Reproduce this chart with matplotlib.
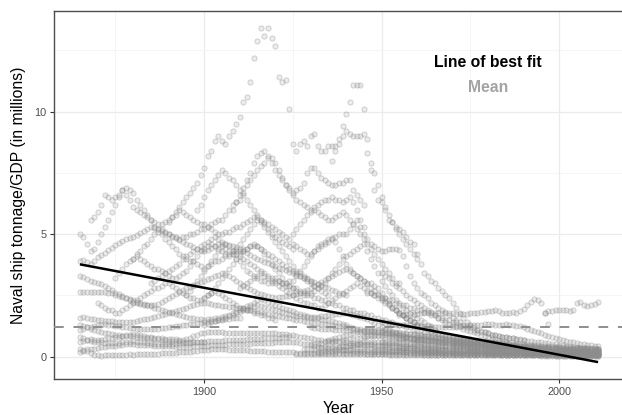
import numpy as np
import matplotlib
matplotlib.use("Agg")
import matplotlib.pyplot as plt

# ---------------- data ----------------
# each series: start year, then one value per year
s01 = (1865, [0.30,0.28,0.22,0.15,0.08,0.05,0.04,0.05,0.06,0.05,
              0.06,0.07,0.06,0.08,0.09,0.08,0.10,0.10,0.11,0.12,
              0.12,0.13,0.12,0.14,0.15,0.15,0.16,0.17,0.18,0.18,
              0.19,0.20,0.22,0.25,0.27,0.28,0.29,0.30,0.31,0.31,
              0.30,0.30,0.29,0.28,0.28,0.29,0.27,0.26,0.25,0.25,
              0.24,0.24,0.22,0.21,0.20,0.20,0.20,0.19,0.19,0.18,
              0.18,0.17,0.17,0.16,0.16,0.15,0.15,0.15,0.14,0.14,
              0.14,0.13,0.13,0.12,0.12,0.12,0.11,0.11,0.11,0.10,
              0.10,0.10,0.10,0.09,0.09,0.09,0.09,0.08,0.08,0.08,
              0.08,0.08,0.08,0.07,0.07,0.07,0.07,0.07,0.07,0.06,
              0.06,0.06,0.06,0.06,0.06,0.06,0.05,0.05,0.05,0.05,
              0.05,0.05,0.05,0.05,0.05,0.05,0.05,0.05,0.05,0.05,
              0.05,0.05,0.05,0.05,0.05,0.05,0.05,0.05,0.05,0.05,
              0.04,0.04,0.04,0.04,0.04,0.04,0.04,0.04,0.04,0.04,
              0.04,0.04,0.04,0.04,0.04,0.04,0.04])
s02 = (1865, [0.20,0.25,0.30,0.30,0.32,0.35,0.38,0.40,0.42,0.44,
              0.45,0.46,0.48,0.50,0.52,0.50,0.49,0.48,0.47,0.47,
              0.46,0.45,0.44,0.44,0.43,0.42,0.42,0.41,0.40,0.40,
              0.40,0.41,0.42,0.43,0.44,0.45,0.45,0.46,0.47,0.48,
              0.48,0.49,0.50,0.50,0.51,0.52,0.52,0.53,0.53,0.54,
              0.55,0.55,0.56,0.56,0.57,0.58,0.58,0.59,0.59,0.60,
              0.60,0.58,0.55,0.52,0.50,0.48,0.45,0.42,0.40,0.38,
              0.36,0.34,0.32,0.30,0.28,0.27,0.26,0.25,0.24,0.23,
              0.22,0.22,0.21,0.21,0.20,0.20,0.20,0.19,0.19,0.19,
              0.18,0.18,0.18,0.17,0.17,0.17,0.16,0.16,0.16,0.16,
              0.15,0.15,0.15,0.15,0.14,0.14,0.14,0.14,0.13,0.13,
              0.13,0.13,0.12,0.12,0.12,0.12,0.12,0.11,0.11,0.11,
              0.11,0.11,0.10,0.10,0.10,0.10,0.10,0.10,0.10,0.10,
              0.09,0.09,0.09,0.09,0.09,0.09,0.09,0.09,0.09,0.09,
              0.09,0.09,0.08,0.08,0.08,0.08,0.08])
s03 = (1865, [0.60,0.65,0.70,0.72,0.70,0.68,0.70,0.72,0.75,0.78,
              0.80,0.82,0.85,0.88,0.90,0.92,0.90,0.88,0.85,0.82,
              0.80,0.78,0.76,0.75,0.74,0.72,0.72,0.71,0.70,0.70,
              0.72,0.78,0.85,0.90,0.95,0.98,1.00,1.00,1.01,1.00,
              0.99,0.98,0.98,0.97,0.97,0.96,0.96,0.95,0.95,0.96,
              0.96,0.97,0.97,0.96,0.95,0.95,0.94,0.93,0.92,0.90,
              0.88,0.85,0.82,0.80,0.78,0.75,0.72,0.70,0.68,0.66,
              0.65,0.64,0.63,0.62,0.60,0.58,0.56,0.54,0.52,0.50,
              0.48,0.47,0.46,0.45,0.44,0.43,0.42,0.41,0.40,0.39,
              0.38,0.37,0.36,0.35,0.34,0.33,0.32,0.31,0.30,0.29,
              0.28,0.27,0.26,0.26,0.25,0.25,0.24,0.24,0.23,0.23,
              0.22,0.22,0.21,0.21,0.20,0.20,0.20,0.19,0.19,0.19,
              0.18,0.18,0.18,0.17,0.17,0.17,0.16,0.16,0.16,0.15,
              0.15,0.15,0.15,0.14,0.14,0.14,0.14,0.13,0.13,0.13,
              0.13,0.12,0.12,0.12,0.12,0.12,0.12])
s04 = (1865, [1.30,1.25,1.20,1.15,1.10,1.05,1.00,0.98,0.95,0.92,
              0.90,0.88,0.86,0.85,0.84,0.83,0.82,0.80,0.78,0.76,
              0.75,0.74,0.72,0.70,0.68,0.66,0.65,0.64,0.63,0.62,
              0.61,0.60,0.60,0.60,0.61,0.62,0.63,0.64,0.65,0.66,
              0.66,0.67,0.68,0.68,0.69,0.70,0.70,0.71,0.72,0.72,
              0.73,0.74,0.75,0.76,0.77,0.78,0.78,0.79,0.80,0.80])
s05 = (1865, [1.60,1.62,1.58,1.55,1.52,1.50,1.48,1.46,1.45,1.44,
              1.42,1.41,1.40,1.40,1.41,1.42,1.45,1.48,1.52,1.55,
              1.58,1.62,1.66,1.70,1.74,1.78,1.82,1.86,1.90,1.95,
              2.00,2.05,2.10,2.15,2.18,2.20,2.18,2.15,2.12,2.10,
              2.08,2.06,2.04,2.02,2.00,1.98,1.95,1.92,1.90,1.88,
              1.85,1.82,1.80,1.76,1.72,1.70,1.66,1.62,1.60,1.56,
              1.52,1.50,1.48,1.45,1.42,1.40,1.38,1.36,1.34,1.32,
              1.30,1.28,1.26,1.25,1.24,1.22,1.20,1.18,1.15,1.12,
              1.10,1.08,1.06,1.04,1.02,1.00,0.98,0.95,0.92,0.90,
              0.88,0.85,0.82,0.80,0.78,0.76,0.74,0.72,0.70,0.68,
              0.66,0.64,0.62,0.60,0.58,0.56,0.55,0.54,0.52,0.51,
              0.50,0.49,0.48,0.47,0.46,0.45,0.44,0.43,0.42,0.41,
              0.40,0.39,0.38,0.37,0.36,0.35,0.34,0.33,0.32,0.31,
              0.30,0.30,0.29,0.29,0.28,0.28,0.27,0.27,0.26,0.26,
              0.25,0.25,0.24,0.24,0.23,0.23,0.22])
s06 = (1865, [2.65,2.66,2.64,2.65,2.66,2.65,2.64,2.63,2.62,2.58,
              2.52,2.48,2.44,2.40,2.35,2.30,2.25,2.20,2.15,2.10,
              2.05,2.00,1.96,1.92,1.88,1.84,1.80,1.76,1.72,1.68,
              1.64,1.60,1.57,1.54,1.52,1.50,1.52,1.54,1.57,1.60,
              1.64,1.68,1.72,1.78,1.84,1.90,1.98,2.05,2.12,2.20,
              2.30,2.35,2.30,2.24,2.18,2.12,2.06,2.00,1.95,1.90,
              1.85,1.80,1.76,1.72,1.68,1.64,1.60,1.57,1.54,1.51,
              1.48,1.45,1.42,1.38,1.34,1.30])
s07 = (1865, [3.30,3.25,3.18,3.10,3.05,3.00,2.95,2.88,2.80,2.72,
              2.62,2.55,2.48,2.40,2.30,2.22,2.18,2.14,2.12,2.10,
              2.10,2.12,2.16,2.22,2.30,2.38,2.46,2.55,2.64,2.72,
              2.80,2.86,2.92,2.98,3.04,3.10,3.16,3.22,3.28,3.34,
              3.40,3.35,3.28,3.20,3.10,3.00,2.92,2.84,2.76,2.68,
              2.60,2.56,2.52,2.48,2.44,2.40,2.42,2.44,2.46,2.48,
              2.50,2.56,2.62,2.68,2.74,2.80,2.88,2.96,3.04,3.12,
              3.20,3.28,3.36,3.44,3.52,3.60,3.50,3.40,3.30,3.20,
              3.10,2.96,2.82,2.68,2.54,2.40,2.28,2.16,2.04,1.92,
              1.80,1.70,1.60,1.50,1.40,1.30,1.24,1.18,1.12,1.06,
              1.00,0.96,0.92,0.88,0.84,0.80,0.77,0.74,0.71,0.68,
              0.66,0.64,0.62,0.60,0.58,0.56,0.54,0.52,0.50,0.48,
              0.47,0.46,0.45,0.44,0.43,0.42,0.41,0.40,0.39,0.38,
              0.37,0.36,0.35,0.34,0.34,0.33,0.33,0.32,0.32,0.31,
              0.31,0.30,0.30,0.29,0.29,0.28,0.28])
s08 = (1865, [3.90,3.95,3.85,3.80,3.90,4.05,4.15,4.25,4.35,4.45,
              4.55,4.65,4.72,4.80,4.86,4.90,4.96,5.04,5.12,5.20,
              5.30,5.26,5.20,5.12,5.06,5.00,4.92,4.84,4.76,4.68,
              4.60,4.54,4.48,4.40,4.34,4.30,4.36,4.44,4.52,4.58,
              4.62,4.58,4.54,4.50,4.46,4.40,4.32,4.24,4.16,4.08,
              4.00,3.94,3.88,3.82,3.76,3.70,3.64,3.58,3.52,3.46,
              3.40,3.34,3.28,3.22,3.16,3.10,3.04,2.98,2.92,2.86,
              2.80,2.74,2.68,2.62,2.56,2.50])
s09 = (1865, [5.0,4.9,4.6,4.3,4.4,4.7,5.0,5.3,5.6,5.9,
              6.2,6.5,6.8,6.6,6.4,6.1,6.0,5.9,5.8,5.7,
              5.6,5.5,5.4,5.2,5.1,5.0,4.9,4.9,4.8,4.9,
              4.9,5.0,5.0,5.1,5.2,5.2,5.3,5.4,5.5,5.6,
              5.6,5.8,6.0,6.2,6.3,6.4,6.7,7.0,7.2,7.4,
              7.6,7.8,7.9,8.1,7.9,7.6,7.4,7.2,7.0,6.9,
              6.7,6.8,6.9,7.1,7.5,7.7,7.7,7.5,7.3,7.2,
              7.1,7.0,7.0,7.1,7.1,7.2,7.2,6.8,6.6,6.4,
              6.2])
s10 = (1868, [5.6,5.7,5.9,6.2,6.6,6.5,6.4,6.5,6.6,6.8,
              6.9,6.8,6.7,6.4,6.2,6.0,5.8,5.6,5.3,5.1,
              5.0,4.8,4.7,4.5,4.4,4.2,4.1,4.0,3.9,3.9,
              3.8,3.7,3.6,3.7,3.8,3.9,3.9,4.0,4.1,4.2,
              4.3,4.3,4.3,4.4,4.4,4.5,4.5,4.5,4.4,4.3,
              4.2,4.1,4.0,3.9,3.8,3.7,3.6,3.5,3.4,3.3,
              3.2,3.1,3.0,2.9,2.8,2.7,2.6,2.5])
s11 = (1880, [4.0,4.2,4.3,4.5,4.6,4.8,5.0,5.2,5.4,5.5,
              5.6,5.7,5.8,6.0,5.9,5.8,5.7,5.6,5.5,5.4,
              5.4,5.3,5.2,5.1,5.0,5.0,5.1,5.1,5.2,5.3,
              5.3,5.4,5.5,5.6,5.7,5.7,5.6,5.5,5.4,5.3,
              5.2,5.1,5.0,4.9,4.8,4.6,4.5,4.4,4.3,4.2,
              4.2,4.3,4.4,4.5,4.6,4.7,4.8,4.9,5.0,5.0,
              5.0,5.2,5.4,5.6,5.3,5.0,4.8,4.6,4.5,4.4,
              4.3,4.3,4.4,4.4,4.4,4.35,4.1,3.7,3.3,3.0,
              2.8,2.6,2.5,2.4,2.2,2.1,2.0,1.9,1.8,1.7,
              1.6,1.5,1.4])
s12 = (1885, [3.0,3.1,3.2,3.3,3.4,3.5,3.6,3.7,3.8,4.0,
              4.1,4.2,4.3,4.4,4.5,4.6,4.7,4.8,4.9,4.8,
              4.7,4.6,4.5,4.3,4.2,4.1,4.0,3.9,3.8,3.7,
              3.6,3.5,3.4,3.3,3.2,3.2,3.1,3.0,2.9,2.9,
              2.8,2.8,2.7,2.6,2.6,2.5,2.4,2.4,2.3,2.3,
              2.2,2.2,2.1,2.1,2.0,2.0,1.9,1.9,1.8,1.8,
              1.8,1.7,1.7,1.6,1.6,1.5,1.5,1.4,1.4,1.3,
              1.3,1.3,1.2,1.2,1.1,1.1,1.1,1.0,1.0,1.0,
              0.95,0.92,0.90,0.88,0.85,0.82,0.80,0.78,0.76,0.74,
              0.72,0.70,0.68,0.66,0.64,0.62,0.60,0.58,0.56,0.54,
              0.52,0.50,0.48,0.46,0.44,0.42])
s13 = (1925, [8.7,8.4,8.7,8.8,8.6,9.0,9.1,8.6,8.4,8.4,
              8.6,8.6,8.6,8.7,9.0,9.2,9.1,9.0,9.0,9.0,
              9.1,8.9,7.6,6.8,6.4,6.3,6.0,5.6,5.5,5.3,
              5.2,5.1,4.9,4.7,4.6,4.2,3.8,3.4,3.3,3.1,
              3.0,2.8,2.7,2.5,2.4,2.2,2.0,1.8,1.6,1.4,
              1.3,1.2,1.1,1.05,1.0,0.95,0.9,0.88,0.85,0.82,
              0.8,0.78,0.76,0.74,0.72,0.7])
s14 = (1890, [5.5,5.7,5.9,6.1,6.3,6.5,6.7,6.9,7.1,7.4,
              7.7,8.2,8.4,8.8,9.0,8.8,8.7,9.0,9.2,9.5,
              9.8,10.4,10.6,11.2,12.2,12.9,13.4,13.1,13.4,13.0,
              12.7,11.4,11.2,11.3,10.1])
s15 = (1936, [8.0,8.4,8.9,9.4,9.9,10.4,11.1,11.1,11.1,10.1,
              8.3,7.9,7.5,7.0,6.5,6.1,5.8,5.5,5.2,5.0,
              4.8,4.6,4.4,4.2,4.0])
s16 = (1908, [6.0,6.3,6.6,6.9,7.2,7.5,7.9,8.2,8.3,8.4,
              8.2,8.1,7.9,7.6,7.3,7.0,6.8,6.6,6.4,6.3,
              6.2,6.1,6.0,6.1,6.2,6.3,6.4,6.4,6.5,6.4,
              6.4,6.3,6.4,6.5,6.3,6.0,5.6,5.3])
s17 = (1895, [2.5,2.7,2.9,3.1,3.3,3.5,3.7,3.9,4.1,4.3,
              4.5,4.4,4.3,4.2,4.0,3.9,3.7,3.5,3.4,3.3,
              3.2,3.1,3.1,3.0,3.0,3.1,3.1,3.0,3.0,3.1,
              3.1,3.3,3.5,3.7,3.9,4.1,4.3,4.5,4.6,4.7,
              4.8,4.85,4.7,4.4,4.1,3.8,3.6,3.4,3.3,3.2,
              3.1,3.0,3.0,2.9,2.8,2.6,2.4,2.2,2.0,1.9,
              1.8,1.7,1.6,1.5,1.4,1.3])
s18 = (1900, [2.4,2.5,2.6,2.8,3.0,3.2,3.4,3.6,3.8,4.0,
              4.2,4.3,4.4,4.5,4.6,4.5,4.4,4.2,4.0,3.8,
              3.6,3.4,3.2,3.0,2.9,2.8,2.7,2.6,2.5,2.5,
              2.6,2.7,2.8,2.9,3.0,3.2,3.4,3.6,3.8,4.0,
              4.1,4.2,4.3,4.4,4.5,4.6,4.3,4.0,3.7,3.4,
              3.1,2.9,2.7,2.5,2.3,2.1,2.0,1.9,1.8,1.7,
              1.6,1.5,1.4,1.3,1.2,1.1])
s19 = (1875, [3.2,3.4,3.6,3.8,3.9,4.0,4.1,4.0,3.9,3.8,
              3.7,3.6,3.6,3.5,3.4,3.3,3.2,3.2,3.3,3.4,
              3.5,3.7,3.9,4.1,4.3,4.4,4.5,4.6,4.5,4.4,
              4.3,4.2,4.1,4.2,4.4,4.6,4.8,5.0,5.2,5.4,
              5.6,5.5,5.3,5.1,4.9,4.7,4.5,4.3,4.1,3.9,
              3.7,3.5,3.4,3.3,3.2,3.1])
s20 = (1870, [2.2,2.1,2.0,1.9,1.9,1.8,1.8,1.9,2.0,2.1,
              2.2,2.3,2.4,2.5,2.6,2.7,2.8,2.8,2.9,3.0,
              3.0,2.9,2.8,2.7,2.6,2.5,2.4,2.4,2.3,2.3,
              2.4,2.5,2.6,2.7,2.6,2.5,2.4,2.3,2.2,2.1,
              2.0,2.0,1.9,1.9,1.8,1.8,1.7,1.7,1.6,1.6,
              1.5])
s21 = (1865, [1.10,1.15,1.20,1.22,1.25,1.28,1.30,1.32,1.30,1.28,
              1.26,1.24,1.22,1.20,1.18,1.16,1.15,1.14,1.13,1.12,
              1.12,1.13,1.14,1.16,1.18,1.20,1.22,1.24,1.26,1.28,
              1.30,1.32,1.34,1.36,1.38,1.40,1.42,1.44,1.46,1.48,
              1.50,1.52,1.54,1.56,1.58,1.60])
s22 = (1865, [0.80,0.75,0.70,0.66,0.62,0.60,0.58,0.56,0.55,0.54,
              0.55,0.56,0.58,0.60,0.62,0.64,0.62,0.60,0.58,0.56,
              0.54,0.52,0.50,0.50,0.50,0.51,0.52,0.53,0.54,0.55,
              0.56,0.57,0.58,0.59,0.60,0.60])
s23 = (1900, [1.30,1.35,1.40,1.45,1.50,1.55,1.60,1.66,1.72,1.78,
              1.84,1.90,1.96,2.02,2.08,2.10,2.06,2.02,1.98,1.94,
              1.90,1.86,1.82,1.78,1.74,1.70,1.68,1.66,1.64,1.62,
              1.60,1.62,1.64,1.66,1.68,1.70,1.72,1.74,1.76,1.78,
              1.80,1.76,1.72,1.68,1.64,1.60,1.52,1.44,1.36,1.28,
              1.20,1.14,1.08,1.02,0.96,0.90,0.86,0.82,0.78,0.74,
              0.70])
s24 = (1910, [2.8,2.9,3.0,3.1,3.2,3.3,3.4,3.3,3.2,3.1,
              3.0,2.9,2.8,2.7,2.6,2.5,2.4,2.3,2.2,2.2,
              2.1,2.1,2.0,2.0,2.1,2.2,2.3,2.4,2.5,2.6,
              2.7,2.8,2.9,3.0,2.9,2.8,2.7,2.6,2.5,2.4,
              2.3,2.2,2.1,2.0,1.9,1.8,1.7,1.6,1.5,1.4,
              1.3])
s25 = (1955, [1.70,1.72,1.74,1.75,1.75,
              1.75,1.80,1.82,1.84,1.82,1.80,1.78,1.80,1.82,1.80,
              1.78,1.76,1.75,1.74,1.76,1.78,1.80,1.80,1.82,1.84,
              1.86,1.88,1.90,1.85,1.80,1.78,1.80,1.82,1.80,1.85,
              1.95,2.10,2.25,2.35,2.30,2.20,1.80,1.35])
s26 = (1996, [1.80,1.85,1.88,1.90,1.90,1.92,1.90,1.88,1.90,2.20,
              2.25,2.10,2.05,2.10,2.15,2.25])
s27 = (1950, [1.40,1.38,1.36,1.34,1.32,1.30,1.30,1.28,1.28,1.26,
              1.26,1.25,1.25,1.24,1.24,1.23,1.23,1.22,1.22,1.22,
              1.22,1.22,1.24,1.26,1.28,1.30,1.30,1.28,1.30,1.32,
              1.34,1.32,1.30,1.28,1.30,1.32,1.30,1.28,1.26,1.24,
              1.20,1.15,1.10,1.05,1.00,0.95,0.90,0.86,0.82,0.78,
              0.74,0.70,0.66,0.62,0.58,0.55,0.52,0.50,0.48,0.46,
              0.44,0.42])
s28 = (1946, [2.6,2.6,2.5,2.5,2.4,2.4,2.3,2.3,2.2,2.2,
              2.1,2.1,2.0,2.0,1.9,1.9,1.8,1.8,1.7,1.7,
              1.6,1.6,1.5,1.5,1.4,1.4,1.3,1.3,1.2,1.2,
              1.1,1.1,1.0,1.0,0.95,0.9,0.88,0.85,0.82,0.8,
              0.78,0.75,0.72,0.7,0.68,0.66,0.64,0.62,0.6,0.58,
              0.56,0.54,0.52,0.5,0.48,0.46,0.44,0.42,0.4,0.38,
              0.36,0.35,0.34,0.33,0.32,0.31])
s29 = (1950, [3.4,3.3,3.2,3.0,2.9,2.8,2.7,2.5,2.4,2.3,
              2.2,2.1,2.0,1.9,1.8,1.7,1.6,1.5,1.4,1.35,
              1.3,1.25,1.2,1.15,1.1,1.05,1.0,0.95,0.9,0.85,
              0.8,0.76,0.72,0.68,0.64,0.6])
s30 = (1898, [6.0,6.2,6.5,6.8,7.0,7.2,7.4,7.6,7.5,7.3,
              7.2,7.0,6.8,6.6,6.4,6.2,6.0,5.8,5.6,5.4,
              5.2,5.0,4.9,4.8,4.7,4.6,4.5,4.4])
s31 = (1925, [5.0,5.2,5.4,5.6,5.8,5.9,6.0,5.9,5.8,5.7,
              5.6,5.6,5.7,5.8,5.9,5.8,5.6,5.4,5.2,5.0,
              4.8,4.6,4.4,4.2,4.0,3.8,3.6,3.4,3.2,3.0,3.0])
z01 = (1926, [0.10,0.10,0.11,0.11,0.12,0.12,0.12,0.13,0.13,0.13,
              0.14,0.14,0.15,0.15,0.16,0.16,0.15,0.15,0.14,0.14,
              0.13,0.13,0.12,0.12,0.12,0.11,0.11,0.11,0.10,0.10,
              0.10,0.10,0.09,0.09,0.09,0.09,0.08,0.08,0.08,0.08,
              0.08,0.07,0.07,0.07,0.07,0.07,0.07,0.06,0.06,0.06,
              0.06,0.06,0.06,0.06,0.06,0.06,0.05,0.05,0.05,0.05,
              0.05,0.05,0.05,0.05,0.05,0.05,0.05,0.05,0.05,0.05,
              0.05,0.05,0.05,0.04,0.04,0.04,0.04,0.04,0.04,0.04,
              0.04,0.04,0.04,0.04,0.04,0.04])
z02 = (1928, [0.30,0.31,0.32,0.33,0.34,0.35,0.36,0.37,0.38,0.39,
              0.40,0.42,0.44,0.46,0.48,0.50,0.54,0.58,0.60,0.60,
              0.59,0.58,0.58,0.57,0.56,0.56,0.55,0.54,0.54,0.53,
              0.52,0.52,0.51,0.50,0.50,0.49,0.48,0.48,0.47,0.46,
              0.45,0.45,0.44,0.43,0.42,0.42,0.41,0.40,0.40,0.39,
              0.38,0.38,0.37,0.36,0.36,0.35,0.35,0.34,0.34,0.33,
              0.33,0.32,0.32,0.31,0.31,0.30,0.30,0.30,0.29,0.29,
              0.29,0.28,0.28,0.28,0.27,0.27,0.27,0.26,0.26,0.26,
              0.25,0.25,0.25,0.25])
z03 = (1930, [0.50,0.52,0.54,0.56,0.58,0.60,0.62,0.64,0.66,0.68,
              0.70,0.72,0.74,0.76,0.78,0.80,0.84,0.88,0.90,0.90,
              0.90,0.88,0.86,0.84,0.82,0.80,0.78,0.76,0.74,0.72,
              0.70,0.69,0.67,0.66,0.64,0.63,0.61,0.60,0.58,0.57,
              0.56,0.55,0.54,0.53,0.52,0.50,0.49,0.48,0.47,0.46,
              0.45,0.44,0.43,0.42,0.41,0.40,0.39,0.38,0.37,0.36,
              0.35,0.34,0.34,0.33,0.32,0.31,0.30,0.30,0.29,0.28,
              0.27,0.26,0.26,0.25,0.24,0.23,0.23,0.22,0.21,0.21,
              0.20,0.20])
z04 = (1932, [0.20,0.21,0.22,0.23,0.24,0.25,0.26,0.27,0.28,0.29,
              0.30,0.31,0.32,0.33,0.33,0.32,0.32,0.31,0.31,0.30,
              0.30,0.29,0.29,0.28,0.28,0.27,0.27,0.26,0.26,0.25,
              0.25,0.24,0.24,0.23,0.23,0.22,0.22,0.21,0.21,0.20,
              0.20,0.20,0.19,0.19,0.19,0.18,0.18,0.18,0.17,0.17,
              0.17,0.16,0.16,0.16,0.16,0.15,0.15,0.15,0.15,0.14,
              0.14,0.14,0.14,0.13,0.13,0.13,0.13,0.13,0.12,0.12,
              0.12,0.12,0.12,0.12,0.11,0.11,0.11,0.11,0.11,0.11])
z05 = (1935, [0.70,0.74,0.78,0.82,0.86,0.90,0.94,0.98,1.00,1.02,
              1.04,1.06,1.08,1.10,1.10,1.10,1.08,1.06,1.04,1.02,
              1.00,0.98,0.96,0.94,0.92,0.90,0.88,0.86,0.84,0.81,
              0.78,0.75,0.72,0.70,0.68,0.66,0.64,0.62,0.60,0.58,
              0.57,0.56,0.54,0.53,0.52,0.50,0.49,0.48,0.47,0.46,
              0.45,0.44,0.43,0.42,0.41,0.40,0.39,0.38,0.38,0.37,
              0.36,0.36,0.35,0.35,0.34,0.34,0.33,0.33,0.32,0.32,
              0.31,0.31,0.30,0.30,0.30,0.29,0.29])
z06 = (1938, [0.40,0.42,0.44,0.46,0.48,0.50,0.52,0.53,0.52,0.51,
              0.50,0.49,0.48,0.48,0.47,0.46,0.46,0.45,0.45,0.44,
              0.44,0.43,0.43,0.42,0.42,0.41,0.40,0.40,0.39,0.38,
              0.38,0.37,0.36,0.36,0.35,0.34,0.34,0.33,0.32,0.32,
              0.31,0.30,0.30,0.29,0.28,0.28,0.27,0.27,0.26,0.26,
              0.25,0.25,0.24,0.24,0.23,0.23,0.22,0.22,0.21,0.21,
              0.21,0.20,0.20,0.20,0.19,0.19,0.19,0.18,0.18,0.18,
              0.17,0.17,0.17,0.17])
z07 = (1945, [0.85,0.86,0.86,0.85,0.84,0.83,0.82,0.81,0.80,0.79,
              0.78,0.77,0.76,0.75,0.74,0.72,0.71,0.70,0.69,0.68,
              0.67,0.66,0.65,0.64,0.63,0.62,0.61,0.60,0.59,0.58,
              0.57,0.56,0.55,0.54,0.53,0.52,0.51,0.50,0.49,0.48,
              0.47,0.46,0.46,0.45,0.44,0.44,0.43,0.42,0.42,0.41,
              0.40,0.40,0.39,0.39,0.38,0.38,0.37,0.37,0.36,0.36,
              0.35,0.35,0.35,0.34,0.34,0.34,0.33])
z08 = (1948, [0.25,0.25,0.24,0.24,0.23,0.23,0.22,0.22,0.21,0.21,
              0.20,0.20,0.20,0.19,0.19,0.19,0.18,0.18,0.18,0.17,
              0.17,0.17,0.16,0.16,0.16,0.15,0.15,0.15,0.14,0.14,
              0.14,0.13,0.13,0.13,0.12,0.12,0.12,0.12,0.11,0.11,
              0.11,0.11,0.10,0.10,0.10,0.10,0.10,0.09,0.09,0.09,
              0.09,0.09,0.09,0.08,0.08,0.08,0.08,0.08,0.08,0.08,
              0.08,0.07,0.07,0.07])
z09 = (1950, [0.60,0.61,0.62,0.62,0.61,0.60,0.59,0.58,0.57,0.56,
              0.55,0.54,0.53,0.52,0.51,0.50,0.49,0.48,0.47,0.46,
              0.45,0.44,0.43,0.42,0.41,0.40,0.39,0.38,0.37,0.36,
              0.35,0.34,0.33,0.32,0.31,0.30,0.29,0.28,0.27,0.26,
              0.26,0.25,0.24,0.24,0.23,0.22,0.22,0.21,0.21,0.20,
              0.20,0.19,0.19,0.18,0.18,0.17,0.17,0.16,0.16,0.16,
              0.15,0.15])
z10 = (1955, [0.35,0.35,0.34,0.34,0.33,0.33,0.32,0.32,0.31,0.31,
              0.30,0.30,0.29,0.29,0.28,0.28,0.27,0.27,0.26,0.26,
              0.25,0.25,0.24,0.24,0.23,0.23,0.22,0.22,0.21,0.21,
              0.20,0.20,0.19,0.19,0.18,0.18,0.17,0.17,0.16,0.16,
              0.15,0.15,0.14,0.14,0.13,0.13,0.13,0.12,0.12,0.12,
              0.11,0.11,0.11,0.10,0.10,0.10,0.10])
z11 = (1960, [0.80,0.79,0.78,0.77,0.76,0.75,0.74,0.73,0.72,0.71,
              0.70,0.68,0.66,0.64,0.62,0.60,0.58,0.56,0.54,0.52,
              0.50,0.49,0.48,0.47,0.46,0.45,0.44,0.43,0.42,0.41,
              0.40,0.39,0.38,0.37,0.36,0.35,0.34,0.33,0.32,0.31,
              0.30,0.29,0.28,0.27,0.26,0.25,0.24,0.23,0.22,0.21,
              0.20,0.20])
z12 = (1962, [0.15,0.15,0.15,0.14,0.14,0.14,0.13,0.13,0.13,0.12,
              0.12,0.12,0.11,0.11,0.11,0.10,0.10,0.10,0.09,0.09,
              0.09,0.09,0.08,0.08,0.08,0.08,0.07,0.07,0.07,0.07,
              0.07,0.06,0.06,0.06,0.06,0.06,0.06,0.05,0.05,0.05,
              0.05,0.05,0.05,0.05,0.05,0.05,0.05,0.05,0.05,0.05])
z13 = (1970, [0.50,0.49,0.48,0.47,0.46,0.45,0.44,0.43,0.42,0.41,
              0.40,0.39,0.38,0.37,0.36,0.35,0.34,0.33,0.32,0.31,
              0.30,0.29,0.28,0.27,0.26,0.25,0.24,0.23,0.22,0.21,
              0.20,0.19,0.18,0.17,0.16,0.15,0.15,0.14,0.14,0.13,
              0.13,0.12])
z14 = (1975, [0.30,0.29,0.28,0.27,0.26,0.25,0.24,0.23,0.22,0.21,
              0.20,0.20,0.19,0.19,0.18,0.18,0.17,0.17,0.16,0.16,
              0.15,0.15,0.14,0.14,0.13,0.13,0.12,0.12,0.11,0.11,
              0.10,0.10,0.10,0.09,0.09,0.09,0.09])
z15 = (1930, [1.20,1.18,1.16,1.15,1.14,1.13,1.12,1.11,1.10,1.10,
              1.10,1.09,1.08,1.07,1.06,1.05,1.04,1.03,1.02,1.01,
              1.00,0.99,0.98,0.97,0.96,0.95,0.94,0.93,0.92,0.91,
              0.90,0.88,0.86,0.84,0.82,0.80,0.78,0.76,0.74,0.72,
              0.70,0.69,0.68,0.67,0.66,0.65,0.64,0.63,0.62,0.61,
              0.60,0.59,0.58,0.57,0.56,0.55,0.54,0.53,0.52,0.51,
              0.50,0.49,0.48,0.47,0.46,0.45,0.44,0.43,0.42,0.41,
              0.40,0.39,0.38,0.37,0.36,0.35,0.34,0.33,0.32,0.31,
              0.30,0.30])

all_series = [s01, s02, s03, s04, s05, s06, s07, s08, s09, s10, s11, s12,
              s13, s14, s15, s16, s17, s18, s19, s20, s21, s22, s23, s24,
              s25, s26, s27, s28, s29, s30, s31,
              z01, z02, z03, z04, z05, z06, z07, z08, z09, z10, z11, z12,
              z13, z14, z15]

fit_years = [1865, 2011]
fit_values = [3.77, -0.22]
mean_value = 1.22

x_ticks = [1900, 1950, 2000]
y_ticks = [0, 5, 10]
x_label = "Year"
y_label = "Naval ship tonnage/GDP (in millions)"
fit_text = "Line of best fit"
mean_text = "Mean"

# ---------------- plotting ----------------
plt.rcParams['font.family'] = ['Liberation Sans', 'DejaVu Sans']

fig = plt.figure(figsize=(6.22, 4.15), dpi=100)
ax = fig.add_axes([54 / 622, 1 - 379 / 415, (624 - 54) / 622, (379 - 11) / 415])

years = np.concatenate([np.arange(st, st + len(v)) for st, v in all_series])
vals = np.concatenate([np.asarray(v, dtype=float) for st, v in all_series])

ax.scatter(years, vals, s=14, marker='o',
           facecolors=(0.55, 0.55, 0.55, 0.17),
           edgecolors=(0.55, 0.55, 0.55, 0.42),
           linewidths=0.6, zorder=2)

ax.axhline(mean_value, color='#8E8E8E', lw=1.4, dashes=(5, 5), zorder=3)
ax.plot(fit_years, fit_values, color='black', lw=1.8, zorder=4,
        solid_capstyle='butt')

ax.text(1980, 12.0, fit_text, ha='center', va='center', fontsize=11.3,
        fontweight='bold', color='black')
ax.text(1980, 11.0, mean_text, ha='center', va='center', fontsize=11.3,
        fontweight='bold', color='#A3A3A3')

ax.set_xlim(1857.7, 2018.3)
ax.set_ylim(-0.91, 14.11)
ax.set_xticks(x_ticks)
ax.set_yticks(y_ticks)
ax.set_xticks([1875, 1925, 1975], minor=True)
ax.set_yticks([2.5, 7.5, 12.5], minor=True)

ax.grid(True, which='major', color='#EBEBEB', lw=0.9, zorder=0)
ax.grid(True, which='minor', color='#F2F2F2', lw=0.5, zorder=0)
ax.set_axisbelow(True)

for sp in ax.spines.values():
    sp.set_color('#4D4D4D')
    sp.set_linewidth(1.0)

ax.tick_params(which='major', length=3, width=0.8, color='#333333',
               labelsize=7.8, labelcolor='#4D4D4D', pad=2.5)
ax.tick_params(which='minor', length=0)

ax.set_xlabel(x_label, fontsize=11.3, color='black', labelpad=3)
ax.set_ylabel(y_label, fontsize=11.3, color='black', labelpad=6)

fig.savefig("out.png", dpi=100)
